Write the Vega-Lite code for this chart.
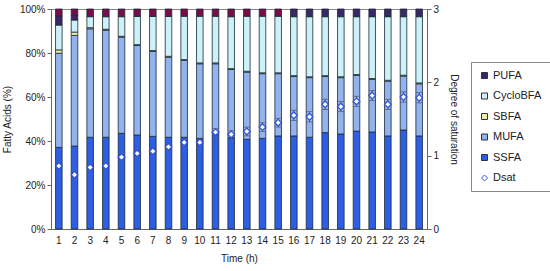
{
  "$schema": "https://vega.github.io/schema/vega-lite/v6.json",
  "autosize": {"type": "none"},
  "width": 376,
  "height": 220,
  "padding": {"left": 51, "top": 9, "right": 123, "bottom": 42},
  "background": "white",
  "config": {
    "font": "Liberation Sans",
    "view": {"stroke": "#888888", "strokeWidth": 1},
    "axis": {"labelFont": "Liberation Sans", "titleFont": "Liberation Sans", "labelFontSize": 10, "titleFontSize": 10, "titleFontWeight": "normal", "labelColor": "#222", "titleColor": "#222", "domainColor": "#666", "tickColor": "#666", "grid": false},
    "legend": {"title": null, "orient": "none", "legendX": 420, "legendY": 53, "symbolSize": 36, "symbolStrokeWidth": 1, "labelFont": "Liberation Sans", "labelFontSize": 11, "labelColor": "#222", "labelOffset": 3, "rowPadding": 8.5, "padding": 8, "strokeColor": "#888", "fillColor": "white"}
  },
  "datasets": {
    "bars": [
      {"t":1,"cat":"SSFA","o":1,"v":37.1},{"t":1,"cat":"MUFA","o":2,"v":42.8},{"t":1,"cat":"SBFA","o":3,"v":1.5},{"t":1,"cat":"CycloBFA","o":4,"v":11.3},{"t":1,"cat":"PUFA","o":5,"v":4.1},{"t":1,"cat":"X","o":6,"v":3.2},
      {"t":2,"cat":"SSFA","o":1,"v":37.7},{"t":2,"cat":"MUFA","o":2,"v":50.3},{"t":2,"cat":"SBFA","o":3,"v":1.5},{"t":2,"cat":"CycloBFA","o":4,"v":5.5},{"t":2,"cat":"PUFA","o":5,"v":2.3},{"t":2,"cat":"X","o":6,"v":2.7},
      {"t":3,"cat":"SSFA","o":1,"v":41.7},{"t":3,"cat":"MUFA","o":2,"v":49.3},{"t":3,"cat":"SBFA","o":3,"v":0.5},{"t":3,"cat":"CycloBFA","o":4,"v":5.0},{"t":3,"cat":"X","o":6,"v":3.5},
      {"t":4,"cat":"SSFA","o":1,"v":41.7},{"t":4,"cat":"MUFA","o":2,"v":48.6},{"t":4,"cat":"SBFA","o":3,"v":0.5},{"t":4,"cat":"CycloBFA","o":4,"v":5.7},{"t":4,"cat":"X","o":6,"v":3.5},
      {"t":5,"cat":"SSFA","o":1,"v":43.5},{"t":5,"cat":"MUFA","o":2,"v":43.7},{"t":5,"cat":"SBFA","o":3,"v":0.4},{"t":5,"cat":"CycloBFA","o":4,"v":8.9},{"t":5,"cat":"X","o":6,"v":3.5},
      {"t":6,"cat":"SSFA","o":1,"v":42.7},{"t":6,"cat":"MUFA","o":2,"v":40.7},{"t":6,"cat":"SBFA","o":3,"v":0.4},{"t":6,"cat":"CycloBFA","o":4,"v":12.8},{"t":6,"cat":"X","o":6,"v":3.4},
      {"t":7,"cat":"SSFA","o":1,"v":42.1},{"t":7,"cat":"MUFA","o":2,"v":38.6},{"t":7,"cat":"SBFA","o":3,"v":0.4},{"t":7,"cat":"CycloBFA","o":4,"v":15.5},{"t":7,"cat":"X","o":6,"v":3.4},
      {"t":8,"cat":"SSFA","o":1,"v":41.7},{"t":8,"cat":"MUFA","o":2,"v":36.4},{"t":8,"cat":"SBFA","o":3,"v":0.4},{"t":8,"cat":"CycloBFA","o":4,"v":18.1},{"t":8,"cat":"X","o":6,"v":3.4},
      {"t":9,"cat":"SSFA","o":1,"v":41.7},{"t":9,"cat":"MUFA","o":2,"v":34.9},{"t":9,"cat":"SBFA","o":3,"v":0.4},{"t":9,"cat":"CycloBFA","o":4,"v":19.7},{"t":9,"cat":"X","o":6,"v":3.3},
      {"t":10,"cat":"SSFA","o":1,"v":41.2},{"t":10,"cat":"MUFA","o":2,"v":33.9},{"t":10,"cat":"SBFA","o":3,"v":0.4},{"t":10,"cat":"CycloBFA","o":4,"v":21.2},{"t":10,"cat":"X","o":6,"v":3.3},
      {"t":11,"cat":"SSFA","o":1,"v":44.2},{"t":11,"cat":"MUFA","o":2,"v":30.9},{"t":11,"cat":"SBFA","o":3,"v":0.4},{"t":11,"cat":"CycloBFA","o":4,"v":21.2},{"t":11,"cat":"X","o":6,"v":3.3},
      {"t":12,"cat":"SSFA","o":1,"v":41.5},{"t":12,"cat":"MUFA","o":2,"v":31.0},{"t":12,"cat":"SBFA","o":3,"v":0.4},{"t":12,"cat":"CycloBFA","o":4,"v":23.6},{"t":12,"cat":"X","o":6,"v":3.5},
      {"t":13,"cat":"SSFA","o":1,"v":40.8},{"t":13,"cat":"MUFA","o":2,"v":30.5},{"t":13,"cat":"SBFA","o":3,"v":0.4},{"t":13,"cat":"CycloBFA","o":4,"v":25.0},{"t":13,"cat":"X","o":6,"v":3.3},
      {"t":14,"cat":"SSFA","o":1,"v":41.2},{"t":14,"cat":"MUFA","o":2,"v":29.4},{"t":14,"cat":"SBFA","o":3,"v":0.4},{"t":14,"cat":"CycloBFA","o":4,"v":25.7},{"t":14,"cat":"X","o":6,"v":3.3},
      {"t":15,"cat":"SSFA","o":1,"v":42.3},{"t":15,"cat":"MUFA","o":2,"v":28.3},{"t":15,"cat":"SBFA","o":3,"v":0.4},{"t":15,"cat":"CycloBFA","o":4,"v":25.7},{"t":15,"cat":"X","o":6,"v":3.3},
      {"t":16,"cat":"SSFA","o":1,"v":42.3},{"t":16,"cat":"MUFA","o":2,"v":27.0},{"t":16,"cat":"SBFA","o":3,"v":0.4},{"t":16,"cat":"CycloBFA","o":4,"v":26.8},{"t":16,"cat":"PUFA","o":5,"v":3.5},
      {"t":17,"cat":"SSFA","o":1,"v":41.7},{"t":17,"cat":"MUFA","o":2,"v":27.1},{"t":17,"cat":"SBFA","o":3,"v":0.4},{"t":17,"cat":"CycloBFA","o":4,"v":27.3},{"t":17,"cat":"PUFA","o":5,"v":3.5},
      {"t":18,"cat":"SSFA","o":1,"v":43.8},{"t":18,"cat":"MUFA","o":2,"v":25.5},{"t":18,"cat":"SBFA","o":3,"v":0.4},{"t":18,"cat":"CycloBFA","o":4,"v":26.8},{"t":18,"cat":"PUFA","o":5,"v":3.5},
      {"t":19,"cat":"SSFA","o":1,"v":43.2},{"t":19,"cat":"MUFA","o":2,"v":25.6},{"t":19,"cat":"SBFA","o":3,"v":0.4},{"t":19,"cat":"CycloBFA","o":4,"v":27.3},{"t":19,"cat":"PUFA","o":5,"v":3.5},
      {"t":20,"cat":"SSFA","o":1,"v":44.5},{"t":20,"cat":"MUFA","o":2,"v":25.3},{"t":20,"cat":"SBFA","o":3,"v":0.4},{"t":20,"cat":"CycloBFA","o":4,"v":26.3},{"t":20,"cat":"PUFA","o":5,"v":3.5},
      {"t":21,"cat":"SSFA","o":1,"v":44.1},{"t":21,"cat":"MUFA","o":2,"v":23.9},{"t":21,"cat":"SBFA","o":3,"v":0.4},{"t":21,"cat":"CycloBFA","o":4,"v":28.1},{"t":21,"cat":"PUFA","o":5,"v":3.5},
      {"t":22,"cat":"SSFA","o":1,"v":42.3},{"t":22,"cat":"MUFA","o":2,"v":24.9},{"t":22,"cat":"SBFA","o":3,"v":0.4},{"t":22,"cat":"CycloBFA","o":4,"v":28.9},{"t":22,"cat":"PUFA","o":5,"v":3.5},
      {"t":23,"cat":"SSFA","o":1,"v":45.0},{"t":23,"cat":"MUFA","o":2,"v":24.5},{"t":23,"cat":"SBFA","o":3,"v":0.4},{"t":23,"cat":"CycloBFA","o":4,"v":26.6},{"t":23,"cat":"PUFA","o":5,"v":3.5},
      {"t":24,"cat":"SSFA","o":1,"v":42.3},{"t":24,"cat":"MUFA","o":2,"v":23.7},{"t":24,"cat":"SBFA","o":3,"v":0.4},{"t":24,"cat":"CycloBFA","o":4,"v":30.1},{"t":24,"cat":"PUFA","o":5,"v":3.5}
    ],
    "dsat": [
      {"t":1,"s":"Dsat","d":0.86,"lo":0.83,"hi":0.89},{"t":2,"s":"Dsat","d":0.74,"lo":0.71,"hi":0.77},{"t":3,"s":"Dsat","d":0.84,"lo":0.81,"hi":0.87},{"t":4,"s":"Dsat","d":0.86,"lo":0.83,"hi":0.89},
      {"t":5,"s":"Dsat","d":0.98,"lo":0.95,"hi":1.01},{"t":6,"s":"Dsat","d":1.03,"lo":1.0,"hi":1.06},{"t":7,"s":"Dsat","d":1.06,"lo":1.03,"hi":1.09},{"t":8,"s":"Dsat","d":1.12,"lo":1.09,"hi":1.15},
      {"t":9,"s":"Dsat","d":1.18,"lo":1.15,"hi":1.21},{"t":10,"s":"Dsat","d":1.18,"lo":1.15,"hi":1.21},{"t":11,"s":"Dsat","d":1.32,"lo":1.27,"hi":1.37},{"t":12,"s":"Dsat","d":1.29,"lo":1.24,"hi":1.34},
      {"t":13,"s":"Dsat","d":1.33,"lo":1.27,"hi":1.39},{"t":14,"s":"Dsat","d":1.39,"lo":1.33,"hi":1.45},{"t":15,"s":"Dsat","d":1.45,"lo":1.39,"hi":1.51},{"t":16,"s":"Dsat","d":1.55,"lo":1.48,"hi":1.62},
      {"t":17,"s":"Dsat","d":1.53,"lo":1.46,"hi":1.6},{"t":18,"s":"Dsat","d":1.7,"lo":1.63,"hi":1.77},{"t":19,"s":"Dsat","d":1.67,"lo":1.6,"hi":1.74},{"t":20,"s":"Dsat","d":1.74,"lo":1.67,"hi":1.81},
      {"t":21,"s":"Dsat","d":1.82,"lo":1.75,"hi":1.89},{"t":22,"s":"Dsat","d":1.7,"lo":1.63,"hi":1.77},{"t":23,"s":"Dsat","d":1.8,"lo":1.73,"hi":1.87},{"t":24,"s":"Dsat","d":1.79,"lo":1.72,"hi":1.86}
    ]
  },
  "encoding": {
    "x": {"field": "t", "type": "ordinal", "scale": {"paddingInner": 0.58, "paddingOuter": 0.29},
      "axis": {"title": "Time (h)", "labelAngle": 0, "ticks": false, "labelPadding": 6, "titlePadding": 8, "domainColor": "#666"}}
  },
  "layer": [
    {
      "data": {"name": "bars"},
      "mark": {"type": "bar", "stroke": "#1c2a33", "strokeWidth": 0.8},
      "encoding": {
        "y": {"field": "v", "type": "quantitative", "stack": "zero", "scale": {"domain": [0, 100], "nice": false},
          "axis": {"orient": "left", "title": "Fatty Acids (%)", "values": [0,20,40,60,80,100], "labelExpr": "datum.value + '%'", "tickSize": 4, "titlePadding": 7}},
        "order": {"field": "o", "type": "quantitative"},
        "color": {"field": "cat", "type": "nominal",
          "scale": {"domain": ["PUFA","CycloBFA","SBFA","MUFA","SSFA","Dsat","X"], "range": ["#3d2668","#cdf1f9","#eef0a6","#93b3f0","#2d5ee6","#ffffff","#7a0c4c"]},
          "legend": {"values": ["PUFA","CycloBFA","SBFA","MUFA","SSFA","Dsat"]}
        }
      }
    },
    {
      "data": {"name": "dsat"},
      "layer": [
        {"mark": {"type": "rule", "color": "#445", "strokeWidth": 0.8},
         "encoding": {"y": {"field": "lo", "type": "quantitative", "scale": {"domain": [0, 3], "nice": false}, "axis": {"orient": "right", "title": "Degree of saturation", "values": [0,1,2,3], "format": "d", "tickSize": 4, "titlePadding": 10}}, "y2": {"field": "hi"}}},
        {"mark": {"type": "tick", "color": "#445", "thickness": 0.8, "size": 6}, "encoding": {"y": {"field": "lo", "type": "quantitative"}}},
        {"mark": {"type": "tick", "color": "#445", "thickness": 0.8, "size": 6}, "encoding": {"y": {"field": "hi", "type": "quantitative"}}},
        {"mark": {"type": "point", "filled": true, "strokeWidth": 1.3, "size": 45, "opacity": 1},
         "encoding": {
           "y": {"field": "d", "type": "quantitative"},
           "color": {"field": "s", "type": "nominal", "scale": {"domain": ["PUFA","CycloBFA","SBFA","MUFA","SSFA","Dsat","X"], "range": ["#3d2668","#cdf1f9","#eef0a6","#93b3f0","#2d5ee6","#ffffff","#7a0c4c"]}, "legend": {"values": ["PUFA","CycloBFA","SBFA","MUFA","SSFA","Dsat"]}},
           "shape": {"field": "s", "type": "nominal", "scale": {"domain": ["PUFA","CycloBFA","SBFA","MUFA","SSFA","Dsat","X"], "range": ["square","square","square","square","square","diamond","square"]}, "legend": {"values": ["PUFA","CycloBFA","SBFA","MUFA","SSFA","Dsat"]}},
           "stroke": {"field": "s", "type": "nominal", "scale": {"domain": ["PUFA","CycloBFA","SBFA","MUFA","SSFA","Dsat","X"], "range": ["#333333","#333333","#333333","#333333","#333333","#3355dd","#333333"]}, "legend": {"values": ["PUFA","CycloBFA","SBFA","MUFA","SSFA","Dsat"]}}
         }}
      ]
    }
  ],
  "resolve": {"scale": {"y": "independent"}}
}
